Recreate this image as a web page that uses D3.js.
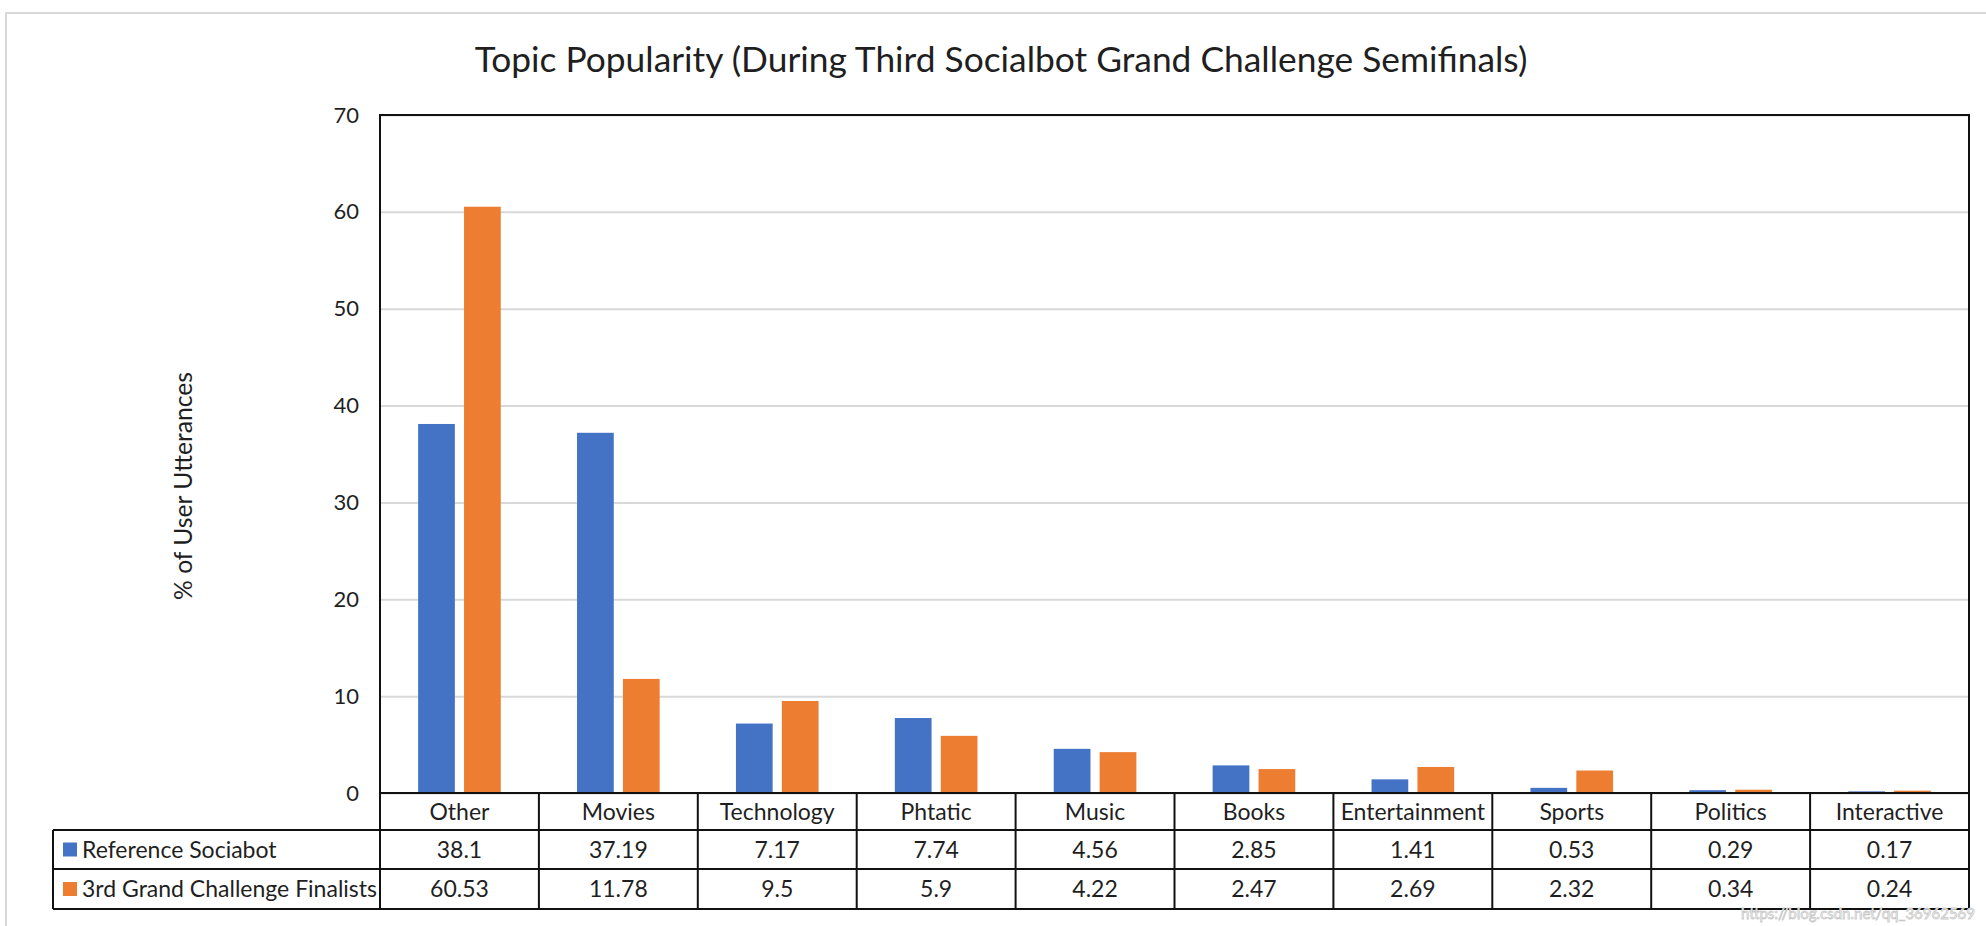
<!DOCTYPE html>
<html>
<head>
<meta charset="utf-8">
<script src="https://cdn.jsdelivr.net/npm/d3@7"></script>
<style>
  html, body { margin: 0; padding: 0; background: #fff; }
  svg { display: block; }
  text { font-family: Lato, "Open Sans", sans-serif; fill: #1f1f1f; }
</style>
</head>
<body>
<svg id="chart" width="1986" height="926"></svg>
<script>
// ---- data ----
const categories = ["Other", "Movies", "Technology", "Phtatic", "Music", "Books", "Entertainment", "Sports", "Politics", "Interactive"];
const seriesNames = ["Reference Sociabot", "3rd Grand Challenge Finalists"];
const referenceValues = [38.1, 37.19, 7.17, 7.74, 4.56, 2.85, 1.41, 0.53, 0.29, 0.17];
const finalistValues = [60.53, 11.78, 9.5, 5.9, 4.22, 2.47, 2.69, 2.32, 0.34, 0.24];
const referenceLabels = ["38.1", "37.19", "7.17", "7.74", "4.56", "2.85", "1.41", "0.53", "0.29", "0.17"];
const finalistLabels = ["60.53", "11.78", "9.5", "5.9", "4.22", "2.47", "2.69", "2.32", "0.34", "0.24"];
const yTicks = [0, 10, 20, 30, 40, 50, 60, 70];
const titleText = "Topic Popularity (During Third Socialbot Grand Challenge Semifinals)";
const yTitleText = "% of User Utterances";
const watermark = "https://blog.csdn.net/qq_36962569";

// ---- layout ----
const W = 1986, H = 926;
const plot = { left: 380, right: 1969, top: 115, bottom: 793 };
const rowH = [37, 39, 40];            // category row, series rows
const legendLeft = 53;
const colors = ["#4472C4", "#ED7D31"];

const svg = d3.select("#chart");

// outer light border
svg.append("rect").attr("x", 6).attr("y", 13).attr("width", W + 20).attr("height", H + 20)
  .attr("fill", "#fff").attr("stroke", "#d9d9d9").attr("stroke-width", 2);

// scales
const x0 = d3.scaleBand().domain(categories).range([plot.left, plot.right]).paddingInner(0).paddingOuter(0);
const groupFrac = 0.52;
const x1 = d3.scaleBand().domain(seriesNames)
  .range([0, x0.bandwidth() * groupFrac]).paddingInner(0.2);
const groupOffset = (x0.bandwidth() * (1 - groupFrac)) / 2;
const y = d3.scaleLinear().domain([0, 70]).range([plot.bottom, plot.top]);

// gridlines + y tick labels
const yAxis = d3.axisLeft(y).tickValues(yTicks).tickSize(-(plot.right - plot.left)).tickPadding(21).tickFormat(d3.format("d"));
const gy = svg.append("g").attr("transform", `translate(${plot.left},0)`).call(yAxis);
gy.select(".domain").remove();
gy.selectAll(".tick line").attr("stroke", "#d9d9d9").attr("stroke-width", 2);
gy.selectAll(".tick text").attr("font-family", "Lato, sans-serif").attr("font-size", 22).attr("fill", "#1f1f1f");

// bars
const seriesValues = [referenceValues, finalistValues];
const barData = [];
categories.forEach((c, i) => {
  seriesNames.forEach((s, j) => barData.push({ cat: c, series: s, v: seriesValues[j][i], j }));
});
svg.append("g").selectAll("rect").data(barData).join("rect")
  .attr("x", d => x0(d.cat) + groupOffset + x1(d.series))
  .attr("width", x1.bandwidth())
  .attr("y", d => y(d.v))
  .attr("height", d => y(0) - y(d.v))
  .attr("fill", d => colors[d.j]);

// plot border (top, left, right) and zero line
const lineStyle = sel => sel.attr("stroke", "#111").attr("stroke-width", 2).attr("fill", "none");
const tableBottom = plot.bottom + rowH[0] + rowH[1] + rowH[2];
const rowY = [plot.bottom, plot.bottom + rowH[0], plot.bottom + rowH[0] + rowH[1], tableBottom];

svg.append("path").attr("d", `M${plot.left},${tableBottom}V${plot.top}H${plot.right}V${tableBottom}`).call(lineStyle);
// horizontal table lines
svg.append("line").attr("x1", plot.left).attr("x2", plot.right).attr("y1", rowY[0]).attr("y2", rowY[0]).call(lineStyle);
[1, 2, 3].forEach(k => {
  svg.append("line").attr("x1", legendLeft).attr("x2", plot.right).attr("y1", rowY[k]).attr("y2", rowY[k]).call(lineStyle);
});
// legend column left border
svg.append("line").attr("x1", legendLeft).attr("x2", legendLeft).attr("y1", rowY[1]).attr("y2", rowY[3]).call(lineStyle);
// column separators
categories.forEach((c, i) => {
  if (i === 0) return;
  svg.append("line").attr("x1", x0(c)).attr("x2", x0(c)).attr("y1", rowY[0]).attr("y2", rowY[3]).call(lineStyle);
});

// category labels
svg.append("g").selectAll("text").data(categories).join("text")
  .attr("x", d => x0(d) + x0.bandwidth() / 2)
  .attr("y", (rowY[0] + rowY[1]) / 2)
  .attr("dy", "0.35em")
  .attr("text-anchor", "middle")
  .attr("font-size", 23)
  .text(d => d);

// value rows
[referenceLabels, finalistLabels].forEach((labels, j) => {
  svg.append("g").selectAll("text").data(labels).join("text")
    .attr("x", (d, i) => x0(categories[i]) + x0.bandwidth() / 2)
    .attr("y", (rowY[j + 1] + rowY[j + 2]) / 2)
    .attr("dy", "0.35em")
    .attr("text-anchor", "middle")
    .attr("font-size", 23)
    .text(d => d);
  // legend key
  svg.append("rect")
    .attr("x", 63).attr("width", 14).attr("height", 14)
    .attr("y", (rowY[j + 1] + rowY[j + 2]) / 2 - 7)
    .attr("fill", colors[j]);
  const lt = svg.append("text")
    .attr("x", 82)
    .attr("y", (rowY[j + 1] + rowY[j + 2]) / 2)
    .attr("dy", "0.35em")
    .attr("font-size", 23)
    .text(seriesNames[j]);
});

// helper to fit text to a target width
function fitText(sel, targetW) {
  const w = sel.node().getComputedTextLength();
  const fs = parseFloat(sel.attr("font-size"));
  sel.attr("font-size", fs * targetW / w);
}

// title
const title = svg.append("text")
  .attr("x", 1001).attr("y", 72)
  .attr("text-anchor", "middle")
  .attr("font-size", 30)
  .text(titleText);
fitText(title, 1053);

// y-axis title
const yt = svg.append("text")
  .attr("transform", `translate(192,486) rotate(-90)`)
  .attr("text-anchor", "middle")
  .attr("font-size", 22)
  .text(yTitleText);
fitText(yt, 228);

// watermark
svg.append("text")
  .attr("x", 1975).attr("y", 919)
  .attr("text-anchor", "end")
  .attr("font-size", 15)
  .attr("stroke", "#c8c8c8")
  .attr("stroke-width", 0.8)
  .style("fill", "#fff")
  .text(watermark);
</script>
</body>
</html>
